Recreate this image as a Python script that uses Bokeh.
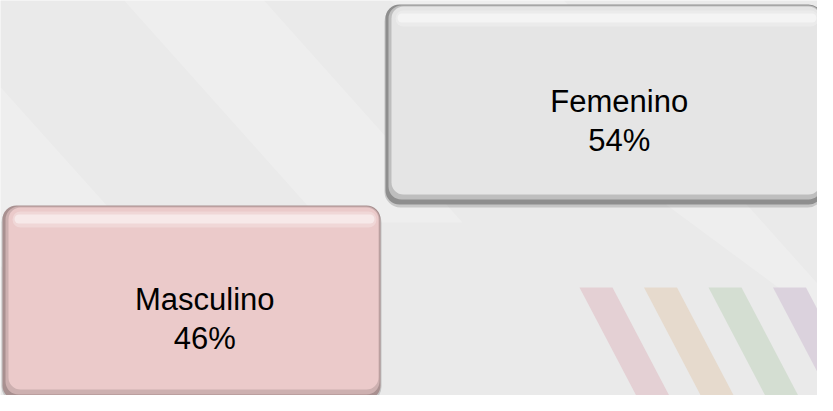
from bokeh.plotting import figure
from bokeh.models import Range1d
from bokeh.core.properties import value
from bokeh.embed import file_html
from bokeh.resources import INLINE

# ---- data ----
categories = ["Masculino", "Femenino"]
values = [46, 54]
pct_labels = [f"{v}%" for v in values]
box_fill = ["#ebcaca", "#e5e5e5"]
box_edge = ["#a89090", "#8e8e8e"]
stripe_colors = ["#e4d0d4", "#e6dacd", "#d4ded2", "#dbd2dd"]

W, H = 817, 395

def px(x):  # page x -> data x
    return x - 8

def py(y):  # page y -> data y
    return 403 - y

# layout of the two boxes (page pixels)
box_left = [10, 393]
box_right = [388, 830]
box_top = [213, 12]
box_bottom = [407, 212]

p = figure(width=W, height=H, output_backend="svg", toolbar_location=None,
           x_range=Range1d(0, W), y_range=Range1d(0, H),
           min_border=0, background_fill_color="#eaeaea",
           border_fill_color="#eaeaea", outline_line_color=None)
p.axis.visible = False
p.grid.visible = False

# faint background diagonal light bands
bands = [
    [(120, -5), (260, -5), (470, 230), (330, 230)],
    [(380, -5), (560, -5), (833, 300), (833, 330)],
    [(-5, 80), (-5, 260), (150, 420), (300, 420)],
]
p.patches([[px(a) for a, b in bd] for bd in bands],
          [[py(b) for a, b in bd] for bd in bands],
          fill_color="white", fill_alpha=0.2, line_color=None)

# coloured stripes (bottom right)
sx, sy, sc = [], [], []
for k, c in enumerate(stripe_colors):
    x0 = 587 + 64.5 * k
    xs = [x0, x0 + 33, x0 + 33 + 63, x0 + 63]
    ys = [295, 295, 415, 415]
    sx.append([px(v) for v in xs])
    sy.append([py(v) for v in ys])
    sc.append(c)
p.patches(sx, sy, fill_color=sc, line_color=None)

L = [px(v) for v in box_left]
R = [px(v) for v in box_right]
T = [py(v) for v in box_top]
B = [py(v) for v in box_bottom]

# shadow
p.quad(left=[l - 1 for l in L], right=[r + 1 for r in R],
       top=[t - 1 for t in T], bottom=[b - 3 for b in B],
       fill_color="#9a9a9a", fill_alpha=0.45, line_color=None, border_radius=16)
# dark bevel body
p.quad(left=L, right=R, top=T, bottom=B, fill_color=box_edge,
       line_color=None, border_radius=14)
# soft inner edge blend
p.quad(left=[l + 3 for l in L], right=[r - 1 for r in R],
       top=[t - 1 for t in T], bottom=[b + 5 for b in B],
       fill_color=box_fill, fill_alpha=0.55, line_color=None, border_radius=13)
# main face
p.quad(left=[l + 6 for l in L], right=[r - 2 for r in R],
       top=[t - 2 for t in T], bottom=[b + 10 for b in B],
       fill_color=box_fill, line_color=None, border_radius=12)
# top highlight (soft)
p.quad(left=[l + 10 for l in L], right=[r - 4 for r in R],
       top=[t - 6 for t in T], bottom=[t - 22 for t in T],
       fill_color="white", fill_alpha=0.25, line_color=None, border_radius=8)
p.quad(left=[l + 12 for l in L], right=[r - 6 for r in R],
       top=[t - 9 for t in T], bottom=[t - 18 for t in T],
       fill_color="white", fill_alpha=0.45, line_color=None, border_radius=5)

# labels
cx = [(l + r) / 2 + 0.035 * (r - l) for l, r in zip(L, R)]
name_y = [t - 0.485 * (t - b) for t, b in zip(T, B)]
pct_y = [ny - 39 for ny in name_y]
p.text(x=cx, y=name_y, text=categories, text_font=value("Liberation Sans"),
       text_font_size="31px", text_color="#000000", text_align="center",
       text_baseline="alphabetic")
p.text(x=cx, y=pct_y, text=pct_labels, text_font=value("Liberation Sans"),
       text_font_size="31px", text_color="#000000", text_align="center",
       text_baseline="alphabetic")

open("out.html", "w").write(file_html(p, INLINE))
